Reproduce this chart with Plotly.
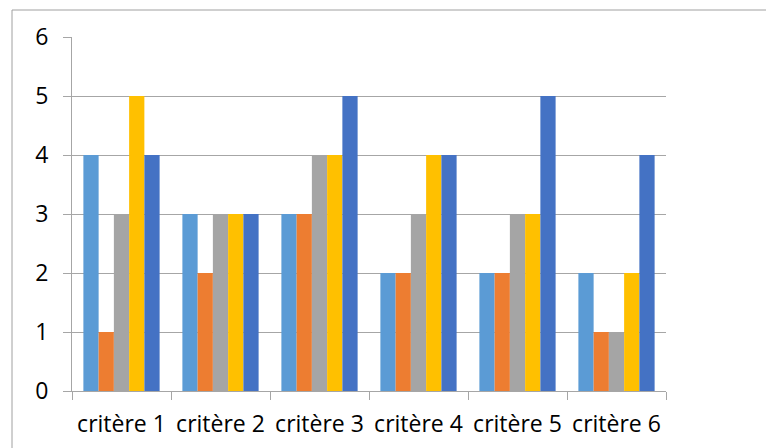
import plotly.graph_objects as go

categories = ["critère 1", "critère 2", "critère 3", "critère 4", "critère 5", "critère 6"]
series_1 = [4, 3, 3, 2, 2, 2]
series_2 = [1, 2, 3, 2, 2, 1]
series_3 = [3, 3, 4, 3, 3, 1]
series_4 = [5, 3, 4, 4, 3, 2]
series_5 = [4, 3, 5, 4, 5, 4]
colors = ["#5B9BD5", "#ED7D31", "#A5A5A5", "#FFC000", "#4472C4"]

fig = go.Figure()
for vals, c in zip([series_1, series_2, series_3, series_4, series_5], colors):
    fig.add_trace(go.Bar(x=categories, y=vals, marker=dict(color=c, line=dict(width=0)), showlegend=False))

# page has an 8px body margin, so figure coords = screen coords - 8
OFF = 8
W, H = 774, 448
L, T = 72 - OFF, 37 - OFF
right_edge, bottom_edge = 666 - OFF, 391 - OFF
R, B = W - right_edge, H - bottom_edge
pw, ph = right_edge - L, bottom_edge - T

def px(x):
    return (x - OFF - L) / pw

def py(y):
    return (bottom_edge - (y - OFF)) / ph

fig.update_layout(
    width=W, height=H,
    margin=dict(l=L, r=R, t=T, b=B),
    paper_bgcolor="white", plot_bgcolor="white",
    barmode="group", bargap=0.23, bargroupgap=0,
    font=dict(family="Open Sans", size=23, color="black"),
    xaxis=dict(showline=True, linecolor="#A6A6A6", linewidth=1, ticks="outside", tickson="boundaries",
               ticklen=8, tickcolor="#A6A6A6", showgrid=False, tickfont=dict(size=23),
               ticklabelstandoff=12, tickangle=0, automargin=False),
    yaxis=dict(range=[0, 6], dtick=1, showline=True, linecolor="#A6A6A6", linewidth=1, ticks="outside",
               ticklen=8, tickcolor="#A6A6A6", gridcolor="#A6A6A6", gridwidth=1, zeroline=False,
               tickfont=dict(size=23), ticklabelstandoff=10, automargin=False),
    shapes=[dict(type="rect", xref="paper", yref="paper", x0=px(12), x1=px(790), y0=py(460), y1=py(10),
                 line=dict(color="#A0A0A0", width=1), layer="below")],
)
fig.write_html("out.html")
